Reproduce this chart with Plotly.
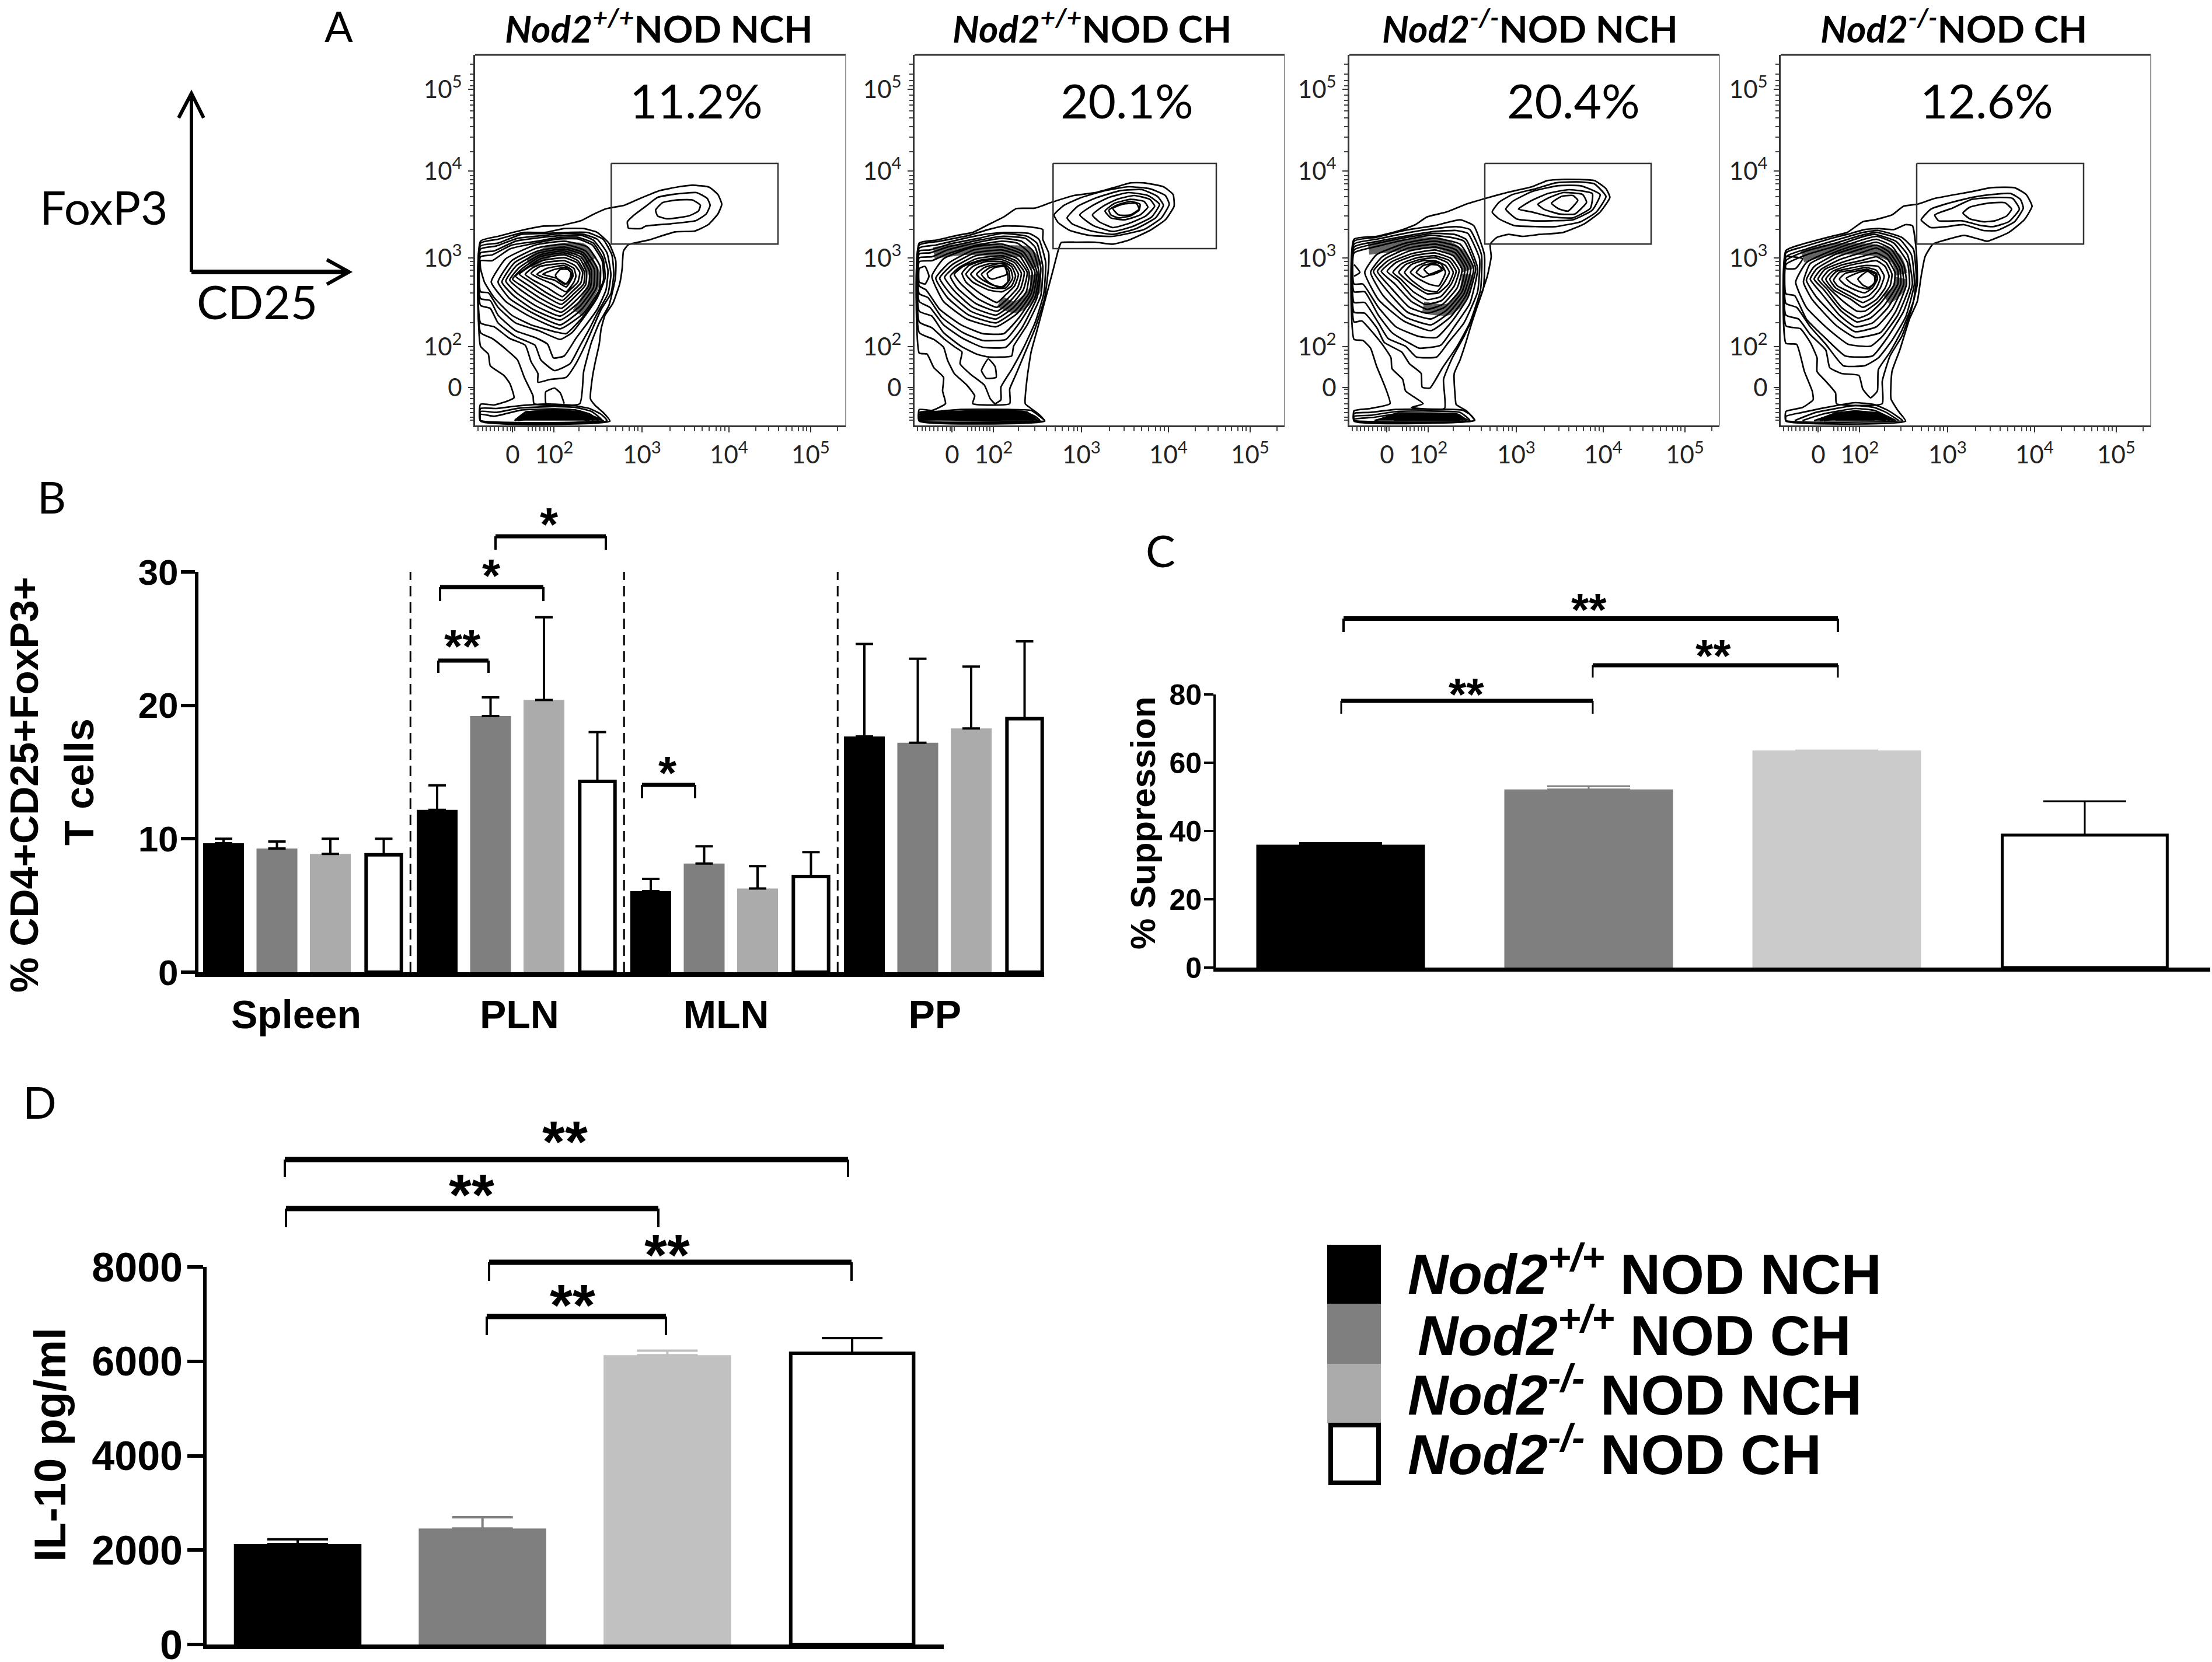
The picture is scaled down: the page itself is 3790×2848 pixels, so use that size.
import plotly.graph_objects as go

W, H = 3790, 2848
LATO = "Lato"
ARIAL = "Liberation Sans"

# ---------- bar data ----------
GROUP_NAMES = ["Nod2+/+ NOD NCH", "Nod2+/+ NOD CH", "Nod2-/- NOD NCH", "Nod2-/- NOD CH"]
TISSUES = ["Spleen", "PLN", "MLN", "PP"]
B_MEAN = [[9.66, 12.17, 6.08, 17.67], [9.27, 19.2, 8.15, 17.2], [8.87, 20.4, 6.28, 18.27], [8.8, 14.3, 7.17, 19.0]]
B_TOP = [[10.0, 14.0, 7.0, 24.6], [9.8, 20.6, 9.43, 23.5], [10.0, 26.6, 7.95, 22.9], [10.0, 18.0, 9.0, 24.8]]
C_MEAN = [36.0, 52.2, 63.6, 38.8]
C_TOP = [36.5, 53.1, 63.6, 48.7]
D_MEAN = [2128, 2459, 6131, 6170]
D_TOP = [2230, 2695, 6225, 6493]
B_COLORS = ["#000000", "#7f7f7f", "#ababab", "#ffffff"]
C_COLORS = ["#000000", "#7f7f7f", "#cbcbcb", "#ffffff"]
D_COLORS = ["#000000", "#7f7f7f", "#c1c1c1", "#ffffff"]

# ---------- flow panels ----------
PANEL_TITLES = ["<i>Nod2<sup>+/+</sup></i>NOD NCH", "<i>Nod2<sup>+/+</sup></i>NOD CH",
                "<i>Nod2<sup>-/-</sup></i>NOD NCH", "<i>Nod2<sup>-/-</sup></i>NOD CH"]
PANEL_PCT = ["11.2%", "20.1%", "20.4%", "12.6%"]
X_MAJOR = [205, 418, 870, 1317, 1737]
X_MAJOR_TEXT = ["0", "10<sup>2</sup>", "10<sup>3</sup>", "10<sup>4</sup>", "10<sup>5</sup>"]
X_MINOR = [28, 50, 68, 90, 110, 132, 155, 178, 195, 215, 285, 305, 325, 345, 365, 385, 400,
           545, 630, 690, 735, 770, 805, 830, 850, 1015, 1090, 1140, 1180, 1215, 1250, 1275, 1295,
           1454, 1522, 1572, 1610, 1642, 1674, 1697, 1717, 1874]
Y_MAJOR = [-351, 69, 516, 972, 1182]
Y_MAJOR_TEXT = ["10<sup>5</sup>", "10<sup>4</sup>", "10<sup>3</sup>", "10<sup>2</sup>", "0"]
Y_MINOR = [-480, -430, -395, -370, -320, -295, -270, -240, -205, -160, -105, -30,
           92, 115, 135, 165, 200, 245, 300, 370, 535, 555, 580, 610, 650, 695, 760, 850,
           990, 1010, 1035, 1060, 1085, 1110, 1190, 1215, 1240, 1265, 1290, 1310, 1335, 1350]

CONT_1 = [
 [40,430,130,405,260,372,365,352,450,350,560,323,620,292,690,262,780,245,860,210,960,170,1060,150,1130,142,1215,152,1260,190,1280,240,1260,290,1210,345,1140,378,1040,382,900,425,800,448,775,480,768,570,755,650,720,750,680,810,660,880,650,960,630,1050,615,1130,605,1240,630,1275,670,1310,705,1355,40,1355,40,1268,110,1272,170,1255,212,1235,190,1160,160,1120,90,1070,80,1010,40,970],
 [795,330,830,295,890,250,950,205,1040,188,1150,180,1205,210,1220,245,1200,290,1145,325,1020,340,890,352,865,365,800,362],
 [940,270,975,232,1050,218,1130,218,1170,245,1160,275,1110,300,1000,315,950,300],
 [40,440,130,420,260,385,370,385,470,365,570,365,640,385,700,440,735,530,733,620,700,760,650,850,610,950,570,1100,550,1265,315,1265,310,1225,265,1130,230,1040,170,985,100,930,40,900],
 [40,455,130,440,250,395,380,390,480,385,590,385,670,420,715,500,725,600,710,700,660,780,620,870,580,960,530,1060,480,1130,400,1140,335,1155,335,1110,300,1050,270,965,190,930,110,870,40,850],
 [375,1265,375,1205,420,1185,450,1210,470,1265],
 [40,470,120,455,230,415,370,400,470,390,570,395,640,420,690,490,710,600,695,700,640,800,600,880,550,970,500,1060,420,1095,350,1040,320,965,220,920,130,850,90,775,40,760],
 [40,490,110,480,220,430,360,410,470,400,560,400,620,425,670,490,695,580,685,680,640,780,590,850,530,930,470,1020,415,1030,385,960,320,925,220,890,130,810,90,735,40,725],
 [40,510,100,500,200,450,330,430,450,410,540,410,620,440,670,520,680,620,640,720,580,810,510,900,450,935,340,890,220,850,130,770,80,695,40,690],
 [40,530,100,530,190,470,330,438,450,418,540,418,615,450,665,530,672,630,630,730,570,815,480,905,420,895,300,860,200,810,110,720,60,640,40,570],
 [95,640,170,520,320,450,470,430,590,460,655,560,650,680,570,800,450,880,290,815,170,740],
 [130,640,200,530,330,465,470,445,580,480,640,570,635,670,560,780,450,860,300,795,190,725],
 [150,640,215,540,335,480,470,460,570,490,625,575,620,670,550,765,450,835,310,780,210,710],
 [170,635,225,555,340,490,470,470,565,500,610,580,605,665,545,745,450,815,320,760,225,695],
 [190,630,240,565,345,500,470,480,555,510,600,585,595,660,535,730,455,795,335,740,245,680],
 [205,625,255,570,345,510,470,490,550,520,585,590,580,655,525,715,455,775,350,725,260,665],
 [220,610,265,575,350,520,470,500,540,530,575,590,570,650,520,700,455,755,360,705,275,650],
 [240,600,285,565,355,530,470,515,535,540,565,590,555,645,510,690,460,735,370,690,290,635],
 [270,600,310,565,370,540,470,530,525,555,550,590,540,640,500,680,460,715,385,670,310,630],
 [300,595,345,560,470,545,520,570,530,610,520,640,480,690,410,650,340,620],
 [330,600,380,570,470,555,510,580,515,610,480,665,420,630,360,615],
 [360,600,420,575,475,565,505,590,500,620,480,650,430,620],
 [425,605,450,575,490,575,510,600,495,640,470,650,440,630],
 [40,1290,120,1290,220,1278,350,1268,420,1268,520,1275,600,1290,660,1320,690,1352,40,1352],
 [40,1305,120,1310,240,1288,420,1280,530,1285,610,1305,665,1352,40,1352],
 [40,1320,110,1330,250,1298,420,1292,530,1298,600,1318,645,1352,40,1352],
 [215,1352,270,1310,420,1303,530,1308,590,1328,620,1352],
 [215,1352,290,1328,420,1314,530,1320,600,1352],
 [230,1352,330,1336,520,1334,590,1352],
 [220,1345,400,1345,600,1345],
]
CONT_2 = [
 [45,440,130,425,240,400,320,385,400,345,480,305,545,262,640,260,720,232,840,195,950,180,1060,150,1130,130,1200,130,1300,150,1350,190,1355,250,1310,320,1230,375,1120,425,1040,445,950,435,850,435,775,437,760,475,730,590,690,740,650,890,620,1000,600,1130,590,1265,620,1290,660,1320,690,1355,45,1355,45,1295,110,1300,180,1265,165,1200,170,1130,120,1080,85,1010,45,1005],
 [738,295,790,245,880,205,1000,170,1120,150,1230,160,1310,195,1330,240,1290,310,1200,370,1040,405,920,400,820,375,760,335],
 [805,310,860,250,960,205,1080,170,1190,165,1270,200,1300,245,1260,310,1160,365,1040,395,920,375,830,340],
 [870,295,930,250,1020,205,1120,180,1220,195,1280,240,1240,305,1140,355,1040,380,940,350],
 [935,295,990,250,1060,215,1150,195,1230,215,1255,250,1210,300,1120,340,1040,360,970,330],
 [1000,275,1050,235,1130,215,1200,225,1220,255,1180,295,1100,320,1030,310],
 [1020,270,1060,245,1130,225,1180,240,1175,270,1130,300,1070,310,1030,295],
 [1040,262,1090,240,1160,235,1175,265,1130,295,1070,295],
 [45,450,150,430,300,400,400,370,480,352,600,355,680,370,680,420,710,490,710,560,690,720,640,880,590,1000,540,1120,510,1190,510,1265,320,1265,330,1225,290,1170,225,1110,190,1040,170,975,120,935,45,900],
 [45,465,130,450,280,415,380,395,480,385,610,390,660,420,695,540,685,700,640,850,580,980,520,1090,465,1180,465,1245,435,1265,410,1240,380,1170,310,1115,255,1060,265,1000,230,975,170,930,110,875,45,845],
 [400,1035,365,1095,390,1135,440,1130,435,1075],
 [45,480,100,475,200,445,350,415,470,390,600,405,650,440,680,560,670,710,600,860,530,970,520,1020,400,1025,340,1010,260,970,170,900,110,815,45,790],
 [45,495,100,490,190,460,350,425,470,405,590,415,640,460,670,570,650,720,570,880,490,975,370,975,270,930,170,860,100,770,45,740],
 [45,515,110,510,190,475,350,435,470,415,570,430,630,480,660,590,640,720,560,850,490,935,370,940,270,900,160,820,90,720,45,700],
 [45,535,110,530,190,495,340,450,470,430,550,440,610,490,650,590,630,710,560,820,480,905,370,905,260,860,150,780,80,680,45,660],
 [45,570,75,560,95,610,75,650,45,640],
 [110,610,170,520,320,460,470,445,580,485,640,590,620,700,550,800,440,870,290,830,170,740],
 [130,620,200,540,325,475,470,460,570,495,625,590,610,695,540,785,440,850,300,810,190,720],
 [150,620,215,550,330,490,470,475,560,505,610,590,595,690,530,770,440,830,310,790,205,700],
 [175,615,230,560,335,505,470,490,550,520,600,590,580,680,520,755,440,810,320,770,225,685],
 [205,610,250,565,340,520,470,505,540,530,585,590,565,675,510,740,445,790,335,750,240,670],
 [225,600,270,560,350,530,470,515,535,540,570,595,550,670,500,725,445,770,345,725,260,650],
 [265,595,300,555,370,530,470,525,525,550,555,600,535,660,490,705,445,745,360,700,285,640],
 [285,600,320,560,385,535,470,535,520,560,540,610,520,660,470,690,400,680,320,640],
 [310,600,345,565,410,545,480,545,515,575,525,620,490,670,420,670,345,635],
 [340,600,380,565,470,545,505,580,510,625,480,665,420,655,365,625],
 [365,600,410,565,480,555,500,600,500,640,460,670,400,640],
 [395,595,435,565,490,560,495,600,440,620,420,625,400,615],
 [45,1310,130,1305,260,1295,500,1295,620,1300,670,1335,690,1352,45,1352],
 [45,1320,150,1315,300,1305,580,1305,640,1330,665,1352,45,1352],
 [45,1332,150,1325,300,1315,580,1315,630,1335,650,1352,45,1352],
 [45,1342,300,1328,590,1328,630,1352],
 [45,1350,300,1340,620,1345],
]
CONT_3 = [
 [45,420,160,405,280,375,360,345,420,305,520,280,620,240,720,210,830,180,960,150,1040,118,1130,112,1280,118,1340,160,1360,205,1310,280,1230,340,1120,385,1000,395,910,405,840,395,780,410,745,445,750,510,730,610,700,700,650,850,620,950,590,1040,560,1110,565,1230,570,1270,620,1300,665,1350,45,1355,45,1302,130,1290,230,1265,205,1180,160,1070,130,980,90,940,45,935],
 [755,280,790,230,860,190,980,160,1080,130,1190,125,1280,135,1340,200,1290,280,1210,330,1080,355,990,355,870,350,790,315],
 [825,265,860,225,960,175,1090,145,1210,145,1310,190,1270,270,1170,320,1060,325,960,325,880,315],
 [890,265,950,225,1040,185,1150,165,1270,185,1260,260,1170,310,1060,305,960,280],
 [990,240,1050,205,1120,180,1220,190,1240,230,1180,290,1100,290,1020,265],
 [1060,235,1110,200,1170,195,1195,220,1145,275,1100,265],
 [45,430,160,410,280,380,360,365,460,350,590,320,660,350,715,500,710,670,660,810,610,920,550,1030,505,1140,510,1290,340,1285,400,1265,310,1200,295,1140,240,1085,235,1030,190,960,150,910,85,840,45,845],
 [45,445,160,420,330,385,460,365,570,355,640,370,700,500,695,680,640,850,575,970,500,1080,435,1185,395,1180,390,1110,330,1060,290,1000,200,950,165,880,100,800,45,795],
 [45,460,170,430,330,400,460,380,570,375,630,390,690,520,680,690,610,850,530,950,470,1025,365,1025,310,970,220,930,170,850,100,745,45,745],
 [45,475,170,440,320,410,450,390,560,395,620,420,680,570,640,750,560,870,490,965,380,980,340,960,240,900,170,810,100,690,45,690],
 [45,490,170,455,320,420,440,400,540,410,610,430,670,570,630,720,550,840,470,925,380,920,260,870,170,770,90,650,45,650],
 [45,550,75,590,45,610],
 [100,590,160,500,310,440,460,415,590,445,660,570,620,710,540,820,440,890,300,840,170,730],
 [130,590,190,510,320,450,460,430,580,460,645,570,610,700,530,800,440,860,310,820,195,710],
 [145,585,205,520,325,465,460,445,570,475,630,570,600,690,520,785,440,830,320,795,220,690],
 [165,585,220,530,330,480,460,460,565,490,615,570,590,680,510,770,420,800,330,770,235,670],
 [185,585,240,535,340,495,460,475,555,505,600,575,575,670,500,755,420,780,340,740,255,650],
 [215,585,260,540,350,505,460,490,545,520,585,580,560,660,495,735,410,755,345,715,270,630],
 [245,590,290,545,370,515,460,505,535,530,570,585,545,650,490,715,420,730,350,690,285,625],
 [275,590,310,550,380,525,460,515,525,540,555,590,530,650,480,695,420,700,340,650],
 [305,590,340,550,400,530,460,530,515,555,535,590,510,640,470,690,410,680,340,630],
 [335,590,365,560,430,535,490,545,515,590,480,660,430,650,370,620],
 [365,590,400,555,460,545,505,575,455,600,430,605,400,615],
 [405,575,440,550,480,555,495,575,460,590,430,600],
 [45,1315,130,1310,260,1295,600,1298,640,1320,665,1352,45,1352],
 [45,1330,130,1325,270,1305,590,1310,640,1352,45,1352],
 [45,1345,150,1335,280,1315,580,1320,620,1352,45,1352],
 [150,1352,270,1325,570,1330,605,1352],
 [250,1340,580,1340],
 [250,1350,590,1350],
]
CONT_4 = [
 [45,478,130,445,280,405,360,385,440,330,500,320,590,295,650,250,720,240,810,210,1000,175,1100,155,1220,155,1280,190,1310,250,1270,320,1190,385,1080,430,1040,420,960,400,860,425,800,445,760,510,740,610,720,740,680,830,630,990,590,1100,585,1240,620,1300,660,1355,45,1355,45,1305,130,1285,185,1245,180,1200,140,1100,100,960,45,955],
 [740,320,790,265,880,235,1000,205,1100,190,1200,185,1250,215,1265,260,1220,330,1130,375,1060,375,960,345,870,355,790,360,760,340],
 [810,295,900,260,1000,215,1120,205,1210,210,1245,265,1190,330,1110,355,1050,350,950,325,830,325],
 [955,285,990,255,1080,235,1170,232,1205,265,1180,300,1120,325,1060,330,990,315],
 [45,490,130,460,280,415,360,395,450,370,520,365,600,370,660,345,695,350,715,480,720,650,690,780,640,920,580,1020,540,1150,540,1265,305,1265,300,1210,250,1150,205,1100,205,1030,170,950,120,880,45,865],
 [45,510,150,470,300,425,440,385,520,375,640,410,700,470,715,620,700,740,640,890,580,1000,520,1090,515,1200,480,1235,440,1190,420,1120,330,1110,270,1080,250,990,170,910,110,830,45,810],
 [45,530,150,480,300,440,430,400,510,385,630,420,690,500,705,650,660,820,590,940,520,1030,450,1070,340,1070,250,960,170,870,100,770,45,750],
 [45,550,150,500,300,455,430,410,500,395,610,430,670,500,695,650,650,790,570,920,490,1020,350,1020,250,930,150,830,90,710,45,700],
 [45,570,95,570,130,520,45,510],
 [95,640,150,540,300,470,430,425,510,405,600,440,670,540,680,660,620,810,540,920,480,970,365,960,260,880,150,770],
 [135,640,170,545,300,485,430,440,510,420,590,455,650,550,665,650,610,790,530,900,400,925,300,860,180,730],
 [150,630,190,560,305,495,430,455,510,435,585,470,640,560,650,650,590,780,510,870,400,895,310,830,200,715],
 [170,625,205,570,310,510,430,470,510,450,575,485,630,570,635,650,570,770,490,850,400,870,320,810,225,695],
 [190,625,225,575,320,525,430,490,510,465,570,500,620,580,620,650,550,760,480,825,410,845,325,785,240,680],
 [210,625,245,575,330,540,430,510,510,490,565,520,605,590,600,655,530,750,470,805,415,825,330,770,255,675],
 [230,625,265,580,340,550,430,530,510,510,560,540,590,600,580,660,520,740,450,790,410,790,340,740,270,675],
 [250,625,285,585,350,560,440,540,510,530,555,560,575,610,555,670,510,730,440,770,380,730,290,680],
 [270,625,305,585,370,570,450,555,520,560,550,610,530,670,490,720,440,745,370,710,300,670],
 [290,630,320,590,380,580,455,565,510,580,530,620,510,670,470,710,430,720,370,690,310,660],
 [320,625,350,595,400,585,460,575,510,595,515,625,490,670,450,695,400,680,350,655],
 [355,620,420,590,465,580,505,600,505,635,470,675,420,665,380,645],
 [415,625,440,600,465,585,500,610,500,645,470,668,440,655],
 [45,1330,130,1310,250,1285,400,1260,500,1270,570,1300,630,1340,645,1352,45,1352],
 [90,1352,200,1310,400,1275,500,1285,560,1310,625,1352],
 [130,1352,230,1320,400,1290,500,1300,545,1320,610,1352],
 [190,1352,280,1325,400,1305,520,1315,595,1352],
 [220,1352,330,1335,400,1320,520,1330,580,1352],
 [240,1352,400,1335,560,1352],
 [300,1348,500,1348],
]
CONTOURS = [CONT_1, CONT_2, CONT_3, CONT_4]
# where the contour lines merge into dense ink
DARK_BANDS = [
 [[290,545,380,490,470,470,560,470,610,530], [590,530,630,620,590,720,540,800]],
 [[120,490,300,470,470,480,600,490,650,560], [640,600,640,680,540,770,460,740]],
 [[120,470,300,450,480,440,590,500,630,580], [630,600,610,700,530,780,400,770]],
 [[130,510,290,470,420,470,520,480,610,520,640,600], [640,620,620,680,560,730]],
]
BASE_CORE = [
 [215,1352,270,1305,420,1295,560,1305,640,1335,675,1352],
 [50,1352,50,1310,300,1300,600,1305,660,1352],
 [150,1352,270,1310,570,1315,640,1352],
 [190,1352,300,1310,400,1300,520,1310,600,1352],
]
GATE_LEFT = [712, 733, 717, 717]
GATE_RIGHT = [1569, 1572, 1572, 1575]
GATE_TOP = [30, 30, 30, 30]
GATE_BOTTOM = [445, 468, 445, 445]

# layout constants (canvas pixels)
FLOW_LEFT = [814, 1567, 2312, 3051]
FLOW_RIGHT = [1449, 2201, 2946, 3685]
FLOW_CROP = [810, 1560, 2305, 3045]
FLOW_TOP, FLOW_BOTTOM = 94, 729
FLOW_TITLE_X = [1129, 1871, 2621, 3347]
FLOW_PCT_X = [1193, 1931, 2696, 3404]

def dom_x(a, b): return [a / W, b / W]
def dom_y(top, bottom): return [1 - bottom / H, 1 - top / H]
def PX(x): return x / W
def PY(y): return 1 - y / H

fig = go.Figure()
layout = dict(width=W, height=H, margin=dict(l=0, r=0, t=0, b=0, pad=0, autoexpand=False), autosize=False,
              paper_bgcolor="white", plot_bgcolor="rgba(0,0,0,0)", showlegend=False,
              barmode="overlay", font=dict(family=ARIAL, color="#000"))
shapes, annos = [], []

def text(x, y, s, size, family=LATO, weight=400, angle=0, anchor="center", color="#000"):
    annos.append(dict(x=PX(x), y=PY(y), xref="paper", yref="paper", text=s, showarrow=False,
                      xanchor=anchor, yanchor="middle", textangle=angle,
                      font=dict(family=family, size=size, weight=weight, color=color)))

def seg(pts, width, color="#000"):
    path = "M " + " L ".join(f"{PX(x):.5f},{PY(y):.5f}" for x, y in pts)
    shapes.append(dict(type="path", path=path, xref="paper", yref="paper",
                       line=dict(color=color, width=width), layer="above"))

def bracket(x0, x1, y, drop, w=7, dw=4):
    seg([(x0, y), (x1, y)], w)
    seg([(x0, y), (x0, drop)], dw)
    seg([(x1, y), (x1, drop)], dw)

def stars(x, y, s, size):
    text(x, y + 0.12 * size, s, size, family=ARIAL, weight=700)

# --- flow panels
for i in range(4):
    n = i + 1
    ax = "" if n == 1 else str(n)
    crop = FLOW_CROP[i]
    off = (FLOW_LEFT[i] - FLOW_CROP[i]) * 3 - 12
    xr = [(FLOW_LEFT[i] - crop) * 3, (FLOW_RIGHT[i] - crop) * 3]
    yr = [(FLOW_BOTTOM - 270) * 3, (FLOW_TOP - 270) * 3]
    tickf = dict(family=LATO, size=42, color="#222")
    layout["xaxis" + ax] = dict(domain=dom_x(FLOW_LEFT[i], FLOW_RIGHT[i]), range=xr, anchor="y" + ax,
                                showgrid=False, zeroline=False, showline=True, linecolor="#333", linewidth=3,
                                ticks="outside", ticklen=9, tickwidth=2, tickcolor="#333",
                                tickvals=[v + off for v in X_MAJOR], ticktext=X_MAJOR_TEXT,
                                tickfont=tickf, ticklabelstandoff=3, tickangle=0,
                                minor=dict(tickmode="array", tickvals=[v + off for v in X_MINOR], ticks="outside",
                                           ticklen=7, tickwidth=2, tickcolor="#444", showgrid=False))
    layout["yaxis" + ax] = dict(domain=dom_y(FLOW_TOP, FLOW_BOTTOM), range=yr, anchor="x" + ax,
                                showgrid=False, zeroline=False, showline=True, linecolor="#333", linewidth=3,
                                ticks="outside", ticklen=9, tickwidth=2, tickcolor="#333",
                                tickvals=Y_MAJOR, ticktext=Y_MAJOR_TEXT, tickfont=tickf, ticklabelstandoff=2,
                                minor=dict(tickmode="array", tickvals=Y_MINOR, ticks="outside",
                                           ticklen=6, tickwidth=2, tickcolor="#444", showgrid=False))
    xref, yref = "x" + ax, "y" + ax
    for band in DARK_BANDS[i]:
        fig.add_trace(go.Scatter(x=band[0::2], y=band[1::2], xaxis=xref, yaxis=yref, mode="lines", hoverinfo="skip",
                                 opacity=0.6, line=dict(color="#000", width=20, shape="spline", smoothing=0.8)))
    core = BASE_CORE[i]
    fig.add_trace(go.Scatter(x=core[0::2], y=core[1::2], xaxis=xref, yaxis=yref, mode="lines", hoverinfo="skip",
                             fill="toself", fillcolor="#000", line=dict(color="#000", width=1)))
    for poly in CONTOURS[i]:
        xs, ys = poly[0::2], poly[1::2]
        open_arc = poly[-1] in (1265, 1345, 1348, 1350, 1340, 1352) and (poly[0] != 40 and poly[0] != 45)
        single = len(xs) <= 3
        if not open_arc and not single:
            xs = xs + xs[:1]
            ys = ys + ys[:1]
        fig.add_trace(go.Scatter(x=xs, y=ys, xaxis=xref, yaxis=yref, mode="lines", hoverinfo="skip",
                                 line=dict(color="#000", width=2.7, shape="spline", smoothing=0.45)))
    gx = [GATE_LEFT[i], GATE_RIGHT[i], GATE_RIGHT[i], GATE_LEFT[i], GATE_LEFT[i]]
    gy = [GATE_TOP[i], GATE_TOP[i], GATE_BOTTOM[i], GATE_BOTTOM[i], GATE_TOP[i]]
    fig.add_trace(go.Scatter(x=gx, y=gy, xaxis=xref, yaxis=yref, mode="lines", hoverinfo="skip",
                             line=dict(color="#333", width=2.5)))
    seg([(FLOW_LEFT[i], FLOW_TOP), (FLOW_RIGHT[i], FLOW_TOP)], 3, "#333")
    seg([(FLOW_RIGHT[i], FLOW_TOP), (FLOW_RIGHT[i], FLOW_BOTTOM)], 1.5, "#777")
    text(FLOW_TITLE_X[i], 45, f"<b>{PANEL_TITLES[i]}</b>", 64)
    text(FLOW_PCT_X[i], 171, PANEL_PCT[i], 82)

# --- Panel B
B_STEP, B_X0 = 91.5, 383
bx = lambda px: (px - B_X0) / B_STEP
layout["xaxis5"] = dict(domain=dom_x(340, 1789), range=[bx(340), bx(1789)], anchor="y5", showgrid=False,
                        zeroline=False, showline=True, linecolor="#000", linewidth=8, ticks="",
                        tickvals=[1.36, 5.54, 9.41, 13.32], ticktext=TISSUES, ticklabelstandoff=6,
                        tickfont=dict(family=ARIAL, size=68, weight=700, color="#000"))
layout["yaxis5"] = dict(domain=dom_y(980, 1666), range=[0, 30], anchor="x5", showgrid=False, zeroline=False,
                        showline=True, linecolor="#000", linewidth=6, ticks="outside", ticklen=24, tickwidth=6,
                        tickcolor="#000", tickvals=[0, 10, 20, 30], ticklabelstandoff=-8,
                        tickfont=dict(family=ARIAL, size=62, weight=700, color="#000"))
for g in range(4):
    xs = [t * 4 + g for t in range(4)]
    hollow = g == 3
    fig.add_trace(go.Bar(x=xs, y=B_MEAN[g], name=GROUP_NAMES[g], xaxis="x5", yaxis="y5",
                         width=0.66 if hollow else 0.765,
                         marker=dict(color=B_COLORS[g], line=dict(color="#000", width=6 if hollow else 0)),
                         error_y=dict(type="data", symmetric=False,
                                      array=[round(a - b, 3) for a, b in zip(B_TOP[g], B_MEAN[g])],
                                      arrayminus=[0] * 4, color="#000", thickness=4, width=15)))
for dv in [3.5, 7.5, 11.5]:
    shapes.append(dict(type="line", xref="x5", yref="y5", x0=dv, x1=dv, y0=0, y1=30,
                       line=dict(color="#000", width=3, dash="18px,10px")))
bracket(849, 1038, 919, 942)
bracket(754, 931, 1006, 1030)
bracket(751, 837, 1132, 1153)
bracket(1100, 1191, 1345, 1368)
stars(941, 889, "*", 80)
stars(842, 977, "*", 80)
stars(792, 1098, "**", 80)
stars(1144, 1315, "*", 80)
text(41, 1345, "<b>% CD4+CD25+FoxP3+</b>", 68, family=ARIAL, angle=-90)
text(136, 1340, "<b>T cells</b>", 70, family=ARIAL, angle=-90)

# --- Panel C
C_STEP, C_X0 = 425, 2297
cx = lambda px: (px - C_X0) / C_STEP
layout["xaxis6"] = dict(domain=dom_x(2083, 3787), range=[cx(2083), cx(3787)], anchor="y6", showgrid=False,
                        zeroline=False, showline=True, linecolor="#000", linewidth=7, ticks="", showticklabels=False)
layout["yaxis6"] = dict(domain=dom_y(1190, 1658), range=[0, 80], anchor="x6", showgrid=False, zeroline=False,
                        showline=True, linecolor="#000", linewidth=4, ticks="outside", ticklen=16, tickwidth=4,
                        tickcolor="#000", tickvals=[0, 20, 40, 60, 80],
                        tickfont=dict(family=ARIAL, size=50, weight=700, color="#000"), ticklabelstandoff=-6)
for g in range(4):
    hollow = g == 3
    err = "#000" if g in (0, 3) else C_COLORS[g]
    fig.add_trace(go.Bar(x=[g], y=[C_MEAN[g]], name=GROUP_NAMES[g], xaxis="x6", yaxis="y6",
                         width=0.665 if hollow else 0.68,
                         marker=dict(color=C_COLORS[g], line=dict(color="#000", width=5 if hollow else 0)),
                         error_y=dict(type="data", symmetric=False, array=[round(C_TOP[g] - C_MEAN[g], 3)],
                                      arrayminus=[0], color=err, thickness=3, width=71)))
bracket(2302, 3149, 1060, 1083, w=8)
bracket(2729, 3149, 1140, 1161, w=7, dw=3)
bracket(2298, 2729, 1201, 1223, w=7, dw=3)
stars(2722, 1036, "**", 78)
stars(2935, 1115, "**", 78)
stars(2512, 1181, "**", 78)
text(1958, 1411, "<b>% Suppression</b>", 60, family=ARIAL, angle=-90)

# --- Panel D
D_STEP, D_X0 = 316.7, 510
dx = lambda px: (px - D_X0) / D_STEP
layout["xaxis7"] = dict(domain=dom_x(354, 1617), range=[dx(354), dx(1617)], anchor="y7", showgrid=False,
                        zeroline=False, showline=True, linecolor="#000", linewidth=8, ticks="", showticklabels=False)
layout["yaxis7"] = dict(domain=dom_y(2171, 2818), range=[0, 8000], anchor="x7", showgrid=False, zeroline=False,
                        showline=True, linecolor="#000", linewidth=6, ticks="outside", ticklen=27, tickwidth=6,
                        tickcolor="#000", tickvals=[0, 2000, 4000, 6000, 8000], ticklabeloverflow="allow",
                        tickfont=dict(family=ARIAL, size=70, weight=700, color="#000"), ticklabelstandoff=-6)
for g in range(4):
    hollow = g == 3
    err = "#000" if g in (0, 3) else D_COLORS[g]
    fig.add_trace(go.Bar(x=[g], y=[D_MEAN[g]], name=GROUP_NAMES[g], xaxis="x7", yaxis="y7",
                         width=0.665 if hollow else 0.69,
                         marker=dict(color=D_COLORS[g], line=dict(color="#000", width=6 if hollow else 0)),
                         error_y=dict(type="data", symmetric=False, array=[round(D_TOP[g] - D_MEAN[g], 3)],
                                      arrayminus=[0], color=err, thickness=4, width=52)))
bracket(488, 1453, 1987, 2017, w=9)
bracket(490, 1128, 2071, 2103, w=9)
bracket(838, 1459, 2163, 2195, w=9)
bracket(834, 1141, 2256, 2288, w=9)
stars(968, 1944, "**", 100)
stars(808, 2035, "**", 100)
stars(1143, 2138, "**", 100)
stars(981, 2224, "**", 100)
text(85, 2476, "<b>IL-10 pg/ml</b>", 76, family=ARIAL, angle=-90)

# --- legend
LEG_Y = [(2133, 2234), (2234, 2337), (2337, 2439), (2442, 2541)]
LEG_TX = [(2410, 2176), (2427, 2281), (2410, 2383), (2410, 2485)]
LEG_TXT = ["<b><i>Nod2<sup>+/+</sup></i> NOD NCH</b>", "<b><i>Nod2<sup>+/+</sup></i> NOD CH</b>",
           "<b><i>Nod2<sup>-/-</sup></i> NOD NCH</b>", "<b><i>Nod2<sup>-/-</sup></i> NOD CH</b>"]
for g in range(4):
    y0, y1 = LEG_Y[g]
    shapes.append(dict(type="rect", xref="paper", yref="paper", x0=PX(2280 if g == 3 else 2274), x1=PX(2362 if g == 3 else 2366),
                       y0=PY(y1), y1=PY(y0), fillcolor=B_COLORS[g], layer="above",
                       line=dict(color="#000", width=8) if g == 3 else dict(width=0)))
    text(LEG_TX[g][0], LEG_TX[g][1], LEG_TXT[g], 96, family=ARIAL, anchor="left")

# --- panel letters, arrows
text(580, 44, "A", 72)
text(88, 850, "B", 76)
text(1988, 942, "C", 76)
text(68, 1888, "D", 76)
text(177, 354, "FoxP3", 80)
text(440, 516, "CD25", 80)
seg([(328, 466), (328, 160)], 6)
seg([(306, 202), (328, 160), (349, 202)], 6)
seg([(328, 466), (598, 466)], 8)
seg([(560, 445), (598, 466), (560, 487)], 6)

layout["shapes"] = shapes
layout["annotations"] = annos
fig.update_layout(**layout)
fig.write_html("out.html", config={"displayModeBar": False},
               post_script="document.body.style.margin='0';document.body.style.overflow='hidden';")
